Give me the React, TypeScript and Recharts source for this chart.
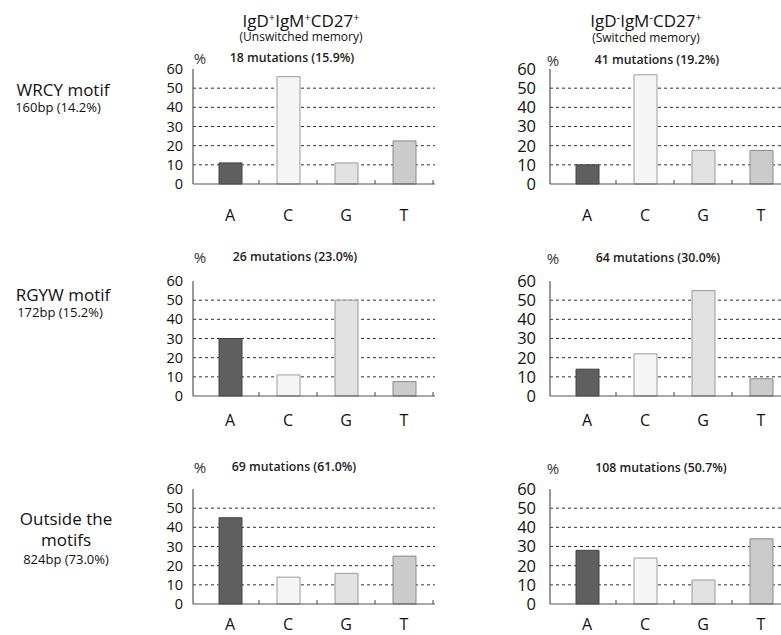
import React from 'react';
import { BarChart, Bar, XAxis, YAxis, CartesianGrid, Cell } from 'recharts';

// ---------- data ----------
const categories = ['A', 'C', 'G', 'T'];
const wrcyUnswitched = [11, 56, 11, 22.5];
const wrcySwitched = [10, 57, 17.5, 17.5];
const rgywUnswitched = [30, 11, 50, 7.5];
const rgywSwitched = [14, 22, 55, 9];
const outsideUnswitched = [45, 14, 16, 25];
const outsideSwitched = [28, 24, 12.5, 34];

const yTicks = [0, 10, 20, 30, 40, 50, 60];
const gridValues = [10, 20, 30, 40, 50];

const mutationLabels = [
  ['18 mutations (15.9%)', '41 mutations (19.2%)'],
  ['26 mutations (23.0%)', '64 mutations (30.0%)'],
  ['69 mutations (61.0%)', '108 mutations (50.7%)'],
];
const rowTitles = [['WRCY motif'], ['RGYW motif'], ['Outside the', 'motifs']];
const rowSubtitles = ['160bp (14.2%)', '172bp (15.2%)', '824bp (73.0%)'];

const seriesGrid = [
  [wrcyUnswitched, wrcySwitched],
  [rgywUnswitched, rgywSwitched],
  [outsideUnswitched, outsideSwitched],
];

// ---------- styles ----------
const FONT = '"Open Sans", "Noto Sans", sans-serif';
const barFills = ['#5f5f5f', '#f5f5f5', '#e2e2e2', '#cbcbcb'];
const barStrokes = ['#444444', '#9c9c9c', '#9a9a9a', '#8a8a8a'];

const YAXIS_W = 40;
const MT = 20;
const PLOT_W = 242;
const PLOT_H = 115;
const XAXIS_H = 55;
const colAxisX = [193, 550];
const rowPlotTop = [69, 281, 489];
const labelDy = [
  [31, 31],
  [24, 24],
  [20, 20],
];
const yLabelFont = [14.5, 16.5];
const yLabelGap = [10, 14];

function XTick(props: any) {
  const { x, y, payload, dyLabel } = props;
  const off = payload && payload.offset ? payload.offset : 0;
  return (
    <g>
      <line x1={x + off} y1={y} x2={x + off} y2={y - 4} stroke="#444" strokeWidth={1} />
      <text
        x={x}
        y={y + dyLabel}
        textAnchor="middle"
        dominantBaseline="central"
        fontSize={16}
        fill="#111"
        fontFamily={FONT}
      >
        {payload.value}
      </text>
    </g>
  );
}

function Panel({ values, row, col }: { values: number[]; row: number; col: number }) {
  const data = categories.map((c, i) => ({ cat: c, value: values[i] }));
  const left = colAxisX[col] - YAXIS_W;
  const top = rowPlotTop[row] - MT;
  return (
    <div style={{ position: 'absolute', left, top }}>
      <BarChart
        width={YAXIS_W + PLOT_W}
        height={MT + PLOT_H + XAXIS_H}
        data={data}
        margin={{ top: MT, right: 0, bottom: 0, left: 0 }}
        style={{ overflow: 'visible' }}
      >
        <CartesianGrid
          horizontal
          vertical={false}
          horizontalValues={gridValues}
          stroke="#333"
          strokeDasharray="3 3"
        />
        <XAxis
          dataKey="cat"
          height={XAXIS_H}
          padding={{ left: 8, right: 2 }}
          tickSize={0}
          tickMargin={0}
          tickLine={false}
          axisLine={{ stroke: '#555', strokeWidth: 1.2 }}
          interval={0}
          tick={(p: any) => <XTick {...p} dyLabel={labelDy[row][col]} />}
        />
        <YAxis
          width={YAXIS_W}
          domain={[0, 60]}
          ticks={yTicks}
          interval={0}
          tickLine={false}
          tickSize={0}
          tickMargin={yLabelGap[col]}
          axisLine={{ stroke: '#555', strokeWidth: 1.2 }}
          tick={{ fontSize: yLabelFont[col], fill: '#111', fontFamily: FONT }}
        />
        <Bar dataKey="value" barSize={23} isAnimationActive={false}>
          {data.map((d, i) => (
            <Cell key={d.cat} fill={barFills[i]} stroke={barStrokes[i]} strokeWidth={1} />
          ))}
        </Bar>
      </BarChart>
    </div>
  );
}

const abs = (x: number, y: number): React.CSSProperties => ({
  position: 'absolute',
  left: x,
  top: y,
  transform: 'translate(-50%, -50%)',
  whiteSpace: 'nowrap',
  lineHeight: 1,
});

const supStyle: React.CSSProperties = {
  fontSize: 11,
  verticalAlign: 'baseline',
  position: 'relative',
  top: '-0.55em',
};

export default function App() {
  const headerCenters = [301, 646];
  const pctX = [200, 553];
  const pctY = [[58, 60], [257, 258], [467, 468]];
  const mutX = [[292, 657], [295, 658], [294, 661]];
  const rowTitleX = [63, 63, 66];
  const rowSubX = [58, 60, 66];
  const rowTitleY = [[89], [294], [518, 539]];
  const rowSubY = [107, 312, 559];
  return (
    <div
      style={{
        position: 'fixed',
        left: 0,
        top: 0,
        width: 781,
        height: 635,
        overflow: 'hidden',
        background: '#fff',
        fontFamily: FONT,
        color: '#111',
      }}
    >
      {/* column headers */}
      <div style={{ ...abs(headerCenters[0], 20), fontSize: 17 }}>
        IgD<span style={supStyle}>+</span>IgM<span style={supStyle}>+</span>CD27
        <span style={supStyle}>+</span>
      </div>
      <div style={{ ...abs(headerCenters[0], 37), fontSize: 12 }}>(Unswitched memory)</div>
      <div style={{ ...abs(headerCenters[1], 20), fontSize: 17 }}>
        IgD<span style={supStyle}>-</span>IgM<span style={supStyle}>-</span>CD27
        <span style={supStyle}>+</span>
      </div>
      <div style={{ ...abs(headerCenters[1], 38), fontSize: 12 }}>(Switched memory)</div>

      {/* row labels */}
      {rowTitles.map((lines, r) => (
        <React.Fragment key={'rt' + r}>
          {lines.map((t, k) => (
            <div key={k} style={{ ...abs(rowTitleX[r], rowTitleY[r][k]), fontSize: 17 }}>
              {t}
            </div>
          ))}
          <div style={{ ...abs(rowSubX[r], rowSubY[r]), fontSize: 13 }}>{rowSubtitles[r]}</div>
        </React.Fragment>
      ))}

      {/* panel captions */}
      {mutationLabels.map((pair, r) =>
        pair.map((t, c) => (
          <React.Fragment key={'m' + r + c}>
            <div style={{ ...abs(pctX[c], pctY[r][c]), fontSize: 15, color: '#333' }}>%</div>
            <div
              style={{
                ...abs(mutX[r][c], pctY[r][c]),
                fontSize: 12.3,
                fontWeight: 600,
                color: '#222',
              }}
            >
              {t}
            </div>
          </React.Fragment>
        ))
      )}

      {/* charts */}
      {seriesGrid.map((pair, r) =>
        pair.map((vals, c) => <Panel key={'p' + r + c} values={vals} row={r} col={c} />)
      )}
    </div>
  );
}
